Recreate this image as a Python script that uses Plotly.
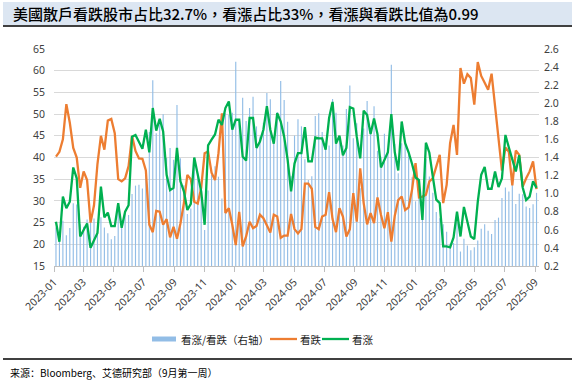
import plotly.graph_objects as go
import pandas as pd

# ---------------- data ----------------
weeks = pd.date_range("2023-01-05", periods=140, freq="7D")

bearish = [
    40.2, 41.3, 44.2, 52.3, 48.0, 42.2, 40.0, 33.0, 36.8, 34.8,
    25.0, 29.0, 38.5, 45.0, 41.8, 48.5, 48.9, 45.6, 35.0, 34.5,
    35.2, 38.0, 45.0, 41.5, 39.8, 39.7, 37.0, 24.5, 22.8, 27.7,
    27.5, 24.5, 25.8, 21.6, 24.0, 21.3, 24.8, 29.5, 36.0, 35.0,
    29.8, 29.4, 33.0, 41.0, 41.4, 36.5, 34.8, 41.0, 50.2, 27.2,
    28.3, 24.5, 19.8, 27.5, 19.5, 21.8, 25.2, 23.7, 24.2, 26.8,
    26.0, 24.5, 22.7, 26.8, 26.4, 21.5, 22.0, 22.0, 27.0, 23.5,
    22.5, 23.5, 34.0, 34.0, 32.8, 24.0, 23.5, 26.4, 26.8, 32.0,
    25.8, 22.8, 28.3, 26.4, 21.8, 23.5, 31.8, 25.2, 37.5, 29.5,
    24.6, 27.2, 24.9, 30.8, 26.8, 23.7, 27.4, 20.6, 26.6, 30.2,
    31.0, 27.9, 28.5, 32.6, 38.7, 30.8, 31.0, 31.4, 34.5, 35.2,
    38.0, 40.6, 29.5, 33.7, 43.3, 47.5, 40.6, 60.6, 57.0, 59.2,
    58.3, 52.2, 62.0, 58.8, 57.2, 55.6, 59.3, 52.0, 45.2, 37.0,
    42.3, 41.3, 33.6, 41.6, 40.6, 33.3, 35.2, 36.8, 39.1, 32.7,
]

bullish = [
    25.2, 20.6, 31.0, 28.3, 29.8, 37.7, 35.2, 21.8, 23.3, 24.8,
    19.2, 21.0, 22.6, 33.3, 26.2, 27.3, 24.2, 24.2, 29.5, 23.8,
    27.5, 29.0, 44.8, 45.2, 43.7, 42.0, 46.4, 41.2, 51.4, 46.2,
    48.9, 46.0, 36.0, 32.5, 33.0, 42.2, 34.5, 32.2, 27.9, 29.3,
    40.0, 36.0, 32.2, 24.5, 42.8, 44.1, 45.3, 48.7, 47.5, 51.4,
    52.9, 46.4, 48.7, 48.7, 40.2, 39.3, 49.1, 49.1, 42.2, 43.7,
    46.4, 51.8, 46.4, 43.2, 50.2, 48.3, 44.8, 39.5, 32.2, 38.6,
    41.0, 41.0, 47.0, 39.1, 39.1, 44.6, 44.4, 44.4, 41.8, 49.1,
    52.8, 43.2, 45.0, 40.5, 42.2, 51.6, 51.3, 44.8, 39.8, 50.8,
    49.8, 45.4, 49.0, 45.4, 37.7, 39.4, 41.2, 50.0, 41.2, 37.0,
    48.3, 43.3, 41.2, 38.5, 35.4, 34.8, 25.6, 43.4, 41.1, 35.6,
    30.3, 29.5, 19.5, 19.5, 19.3, 21.6, 27.5, 21.8, 28.6, 25.2,
    21.8, 21.2, 29.8, 36.0, 37.8, 32.8, 32.8, 36.8, 33.2, 35.2,
    45.2, 42.3, 39.6, 36.8, 40.5, 33.1, 30.2, 31.0, 34.5, 33.0,
]

# bull / bear ratio (right axis), as defined by the legend 看涨/看跌
ratio = [round(b / s, 3) for b, s in zip(bullish, bearish)]

left_ticks = [15, 20, 25, 30, 35, 40, 45, 50, 55, 60, 65]
right_ticks = [0.2, 0.4, 0.6, 0.8, 1.0, 1.2, 1.4, 1.6, 1.8, 2.0, 2.2, 2.4, 2.6]
x_tick_dates = pd.date_range("2023-01-01", "2025-09-01", freq="2MS")
x_tick_labels = [d.strftime("%Y-%m") for d in x_tick_dates]

series_names = ["看涨/看跌（右轴）", "看跌", "看涨"]
series_colors = ["#92BDE6", "#ED7D31", "#00B050"]
title_text = "美國散戶看跌股市占比32.7%，看漲占比33%，看漲與看跌比值為0.99"
source_text = "来源：Bloomberg、艾德研究部（9月第一周）"

# ---------------- layout geometry (pixels) ----------------
W, H = 572, 382
L, R, T, B = 54, 33, 49, 116
PW, PH = W - L - R, H - T - B


def px(x):
    return (x - L) / PW


def py(y):
    return (H - B - y) / PH


AX_FONT = dict(family="Noto Sans, Open Sans, sans-serif", size=10.5, color="#404040")
LEG_FONT = dict(family="Noto Sans CJK SC", size=10.5, color="#262626")

fig = go.Figure()
fig.add_trace(go.Bar(
    x=weeks, y=ratio, name=series_names[0],
    marker=dict(color=series_colors[0], line=dict(width=0)),
    width=2.0e8, yaxis="y", showlegend=False,
))
fig.add_trace(go.Scatter(
    x=weeks, y=bearish, name=series_names[1], mode="lines",
    line=dict(color=series_colors[1], width=2.3), yaxis="y2", showlegend=False,
))
fig.add_trace(go.Scatter(
    x=weeks, y=bullish, name=series_names[2], mode="lines",
    line=dict(color=series_colors[2], width=2.3), yaxis="y2", showlegend=False,
))

shapes = [
    dict(type="rect", xref="paper", yref="paper",
         x0=px(3), x1=px(572), y0=py(2), y1=py(25),
         fillcolor="#DCE6F2", line=dict(width=0), layer="below"),
    dict(type="line", xref="paper", yref="paper",
         x0=px(3), x1=px(572), y0=py(26), y1=py(26),
         line=dict(color="black", width=1.5)),
    dict(type="line", xref="paper", yref="paper",
         x0=px(3), x1=px(572), y0=py(359), y1=py(359),
         line=dict(color="black", width=1.5)),
    # legend keys
    dict(type="rect", xref="paper", yref="paper",
         x0=px(152), x1=px(176), y0=py(336.5), y1=py(341.5),
         fillcolor=series_colors[0], line=dict(width=0)),
    dict(type="line", xref="paper", yref="paper",
         x0=px(270), x1=px(297), y0=py(339), y1=py(339),
         line=dict(color=series_colors[1], width=2.3)),
    dict(type="line", xref="paper", yref="paper",
         x0=px(322), x1=px(349), y0=py(339), y1=py(339),
         line=dict(color=series_colors[2], width=2.3)),
]

annotations = [
    dict(xref="paper", yref="paper", x=px(11), y=py(14),
         xanchor="left", yanchor="middle", showarrow=False,
         text=title_text,
         font=dict(family="Noto Sans CJK TC", size=15, color="black", weight=500)),
    dict(xref="paper", yref="paper", x=px(8), y=py(372),
         xanchor="left", yanchor="middle", showarrow=False,
         text=source_text,
         font=dict(family="Noto Sans CJK SC", size=10, color="black")),
]
for name, xleft in zip(series_names, [179, 298, 350]):
    annotations.append(dict(
        xref="paper", yref="paper", x=px(xleft), y=py(339),
        xanchor="left", yanchor="middle", showarrow=False,
        text=name, font=LEG_FONT,
    ))

fig.update_layout(
    width=W, height=H,
    margin=dict(l=L, r=R, t=T, b=B, pad=0, autoexpand=False),
    paper_bgcolor="white", plot_bgcolor="white",
    showlegend=False,
    xaxis=dict(
        type="date", range=["2023-01-01", "2025-09-09"],
        tickvals=list(x_tick_dates), ticktext=x_tick_labels, tickangle=-45,
        ticks="outside", ticklen=5, tickcolor="#BFBFBF",
        showline=True, linecolor="#BFBFBF", linewidth=1,
        showgrid=False, zeroline=False, tickfont=AX_FONT, automargin=False,
    ),
    yaxis=dict(
        side="right", range=[0.2, 2.6], tickvals=right_ticks, tickformat=".1f",
        showgrid=False, zeroline=False, showline=False, tickfont=AX_FONT,
        ticks="", ticklabelstandoff=4, automargin=False,
    ),
    yaxis2=dict(
        overlaying="y", side="left", range=[15, 65], tickvals=left_ticks,
        showgrid=True, gridcolor="#D9D9D9", gridwidth=1,
        zeroline=False, showline=False, tickfont=AX_FONT,
        ticks="", ticklabelstandoff=8, automargin=False,
    ),
    shapes=shapes,
    annotations=annotations,
)

fig.write_html(
    "out.html",
    config={"displayModeBar": False, "staticPlot": True},
    post_script="document.body.style.margin='0';document.body.style.overflow='hidden';",
)
